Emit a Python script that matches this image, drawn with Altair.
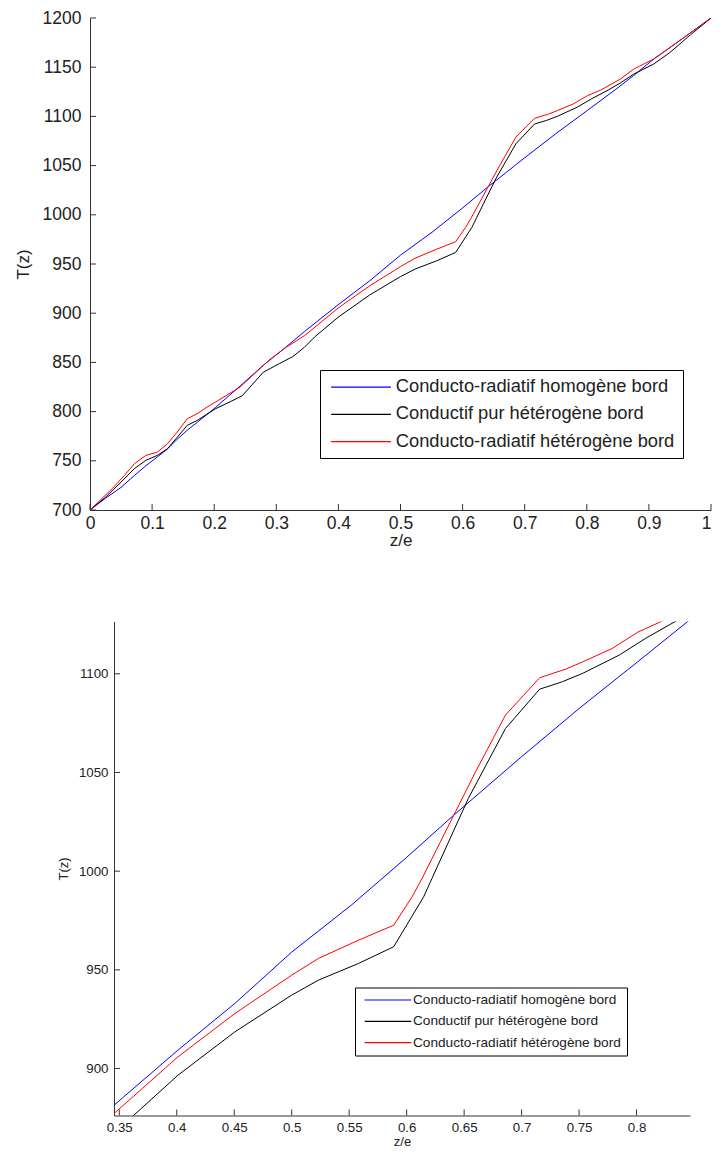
import altair as alt
import pandas as pd

FONT = "Liberation Sans"
AX = "#333333"
TXT = "#222222"

SERIES = ["Conducto-radiatif homogène bord",
          "Conductif pur hétérogène bord",
          "Conducto-radiatif hétérogène bord"]
COLORS = ["#0000ff", "#000000", "#ff0000"]

# Conducto-radiatif homogène bord (blue)
z_homog = [0, 0.025, 0.05, 0.0714, 0.09, 0.1086, 0.1246, 0.1406, 0.1565, 0.1725,
           0.2018, 0.2417, 0.279, 0.3163, 0.3454, 0.401, 0.4506, 0.5, 0.5523, 0.6,
           0.641, 0.7, 0.75, 0.8008, 0.8456, 0.8754, 0.9073, 0.934, 0.967, 1.0]
T_homog = [700, 712, 723, 735, 745, 754, 762, 772, 781, 789,
           804, 826, 847, 866, 881.4, 909.3, 933, 959, 983, 1007,
           1028.4, 1058, 1082.4, 1106, 1127, 1141.5, 1158, 1170, 1185, 1200]

# Conductif pur hétérogène bord (black)
z_cond = [0, 0.025, 0.05, 0.0714, 0.09, 0.1086, 0.1246, 0.1406, 0.1565, 0.1725,
          0.2018, 0.2257, 0.245, 0.279, 0.3056, 0.327, 0.345, 0.362, 0.401, 0.4506,
          0.5, 0.5233, 0.558, 0.5887, 0.6148, 0.622, 0.6536, 0.686, 0.7157, 0.7355,
          0.753, 0.785, 0.808, 0.8343, 0.854, 0.8754, 0.9073, 0.934, 0.967, 1.0]
T_cond = [700, 713, 728.4, 742, 750.5, 755.5, 762.2, 774, 786, 791,
          802.8, 810, 816, 840, 849, 856, 865.2, 876, 896.6, 918.6,
          937.2, 944.8, 953.2, 961.7, 987, 996.3, 1036.8, 1072.3, 1092.2, 1096,
          1100.2, 1109.5, 1118, 1126.7, 1134, 1142.9, 1153.1, 1165, 1183, 1200]

# Conducto-radiatif hétérogène bord (red)
z_het = [0, 0.0367, 0.0554, 0.0714, 0.09, 0.1086, 0.1246, 0.1406, 0.1565, 0.1725,
         0.1885, 0.2018, 0.2417, 0.2897, 0.3163, 0.3454, 0.401, 0.4506, 0.5, 0.5233,
         0.558, 0.5887, 0.6047, 0.6134, 0.6425, 0.66, 0.686, 0.7157, 0.7385, 0.753,
         0.779, 0.8008, 0.8222, 0.854, 0.8754, 0.9073, 0.934, 0.967, 1.0]
T_het = [700, 722.3, 735.2, 747, 755.5, 758.9, 767.3, 779.2, 792.7, 797.8,
         804.6, 809.6, 825, 853, 865.5, 877.2, 905.9, 927.9, 947.3, 955.8,
         965, 972.6, 987, 996.3, 1030.1, 1050.4, 1079.1, 1098, 1102.4, 1106,
         1112.9, 1121, 1126.7, 1137.9, 1148, 1158.2, 1170, 1185, 1200]

top_x_ticks = [0, 0.1, 0.2, 0.3, 0.4, 0.5, 0.6, 0.7, 0.8, 0.9, 1]
top_y_ticks = [700, 750, 800, 850, 900, 950, 1000, 1050, 1100, 1150, 1200]
top_x_domain = [0, 1]
top_y_domain = [700, 1200]

bot_x_ticks = [0.35, 0.4, 0.45, 0.5, 0.55, 0.6, 0.65, 0.7, 0.75, 0.8]
bot_y_ticks = [900, 950, 1000, 1050, 1100]
bot_x_domain = [0.3454, 0.8465]
bot_y_domain = [876.2, 1126.5]

rows = []
for name, zs, ts in [(SERIES[0], z_homog, T_homog),
                     (SERIES[1], z_cond, T_cond),
                     (SERIES[2], z_het, T_het)]:
    for z, t in zip(zs, ts):
        rows.append({"z": z, "T": t, "serie": name})
df = pd.DataFrame(rows)


def panel(width, height, x_scale, y_scale, x_ticks, y_ticks, x_axis, y_axis,
          legend, xoff, tick_len, zmin=None):
    color = alt.Color("serie:N", scale=alt.Scale(domain=SERIES, range=COLORS),
                      legend=legend)
    layers = []
    for s in SERIES:
        c = alt.Chart(df).mark_line(clip=True, strokeWidth=1)
        if zmin is not None:
            c = c.transform_filter(f"datum.z >= {zmin}")
        c = c.transform_filter(alt.datum.serie == s).encode(
            x=alt.X("z:Q", scale=x_scale, axis=x_axis),
            y=alt.Y("T:Q", scale=y_scale, axis=y_axis),
            color=color,
        )
        layers.append(c)
    xt = alt.Chart(pd.DataFrame({"z": x_ticks})).mark_rule(
        color=AX, strokeWidth=1).encode(
        x=alt.X("z:Q", scale=x_scale, axis=x_axis),
        y=alt.value(height), y2=alt.value(height - tick_len))
    yt = alt.Chart(pd.DataFrame({"T": y_ticks})).mark_rule(
        color=AX, strokeWidth=1).encode(
        y=alt.Y("T:Q", scale=y_scale, axis=y_axis),
        x=alt.value(xoff), x2=alt.value(xoff + tick_len))
    return alt.layer(*layers, xt, yt).properties(width=width, height=height)


# ---------- top panel ----------
TW, TH = 621, 492
top_xs = alt.Scale(domain=top_x_domain, nice=False, zero=False)
top_ys = alt.Scale(domain=top_y_domain, nice=False, zero=False)
top_xa = alt.Axis(values=top_x_ticks, format="~g", title="z/e", ticks=False,
                  tickSize=0, grid=False, domainColor=AX, labelFont=FONT,
                  labelFontSize=17.5, labelColor=TXT, labelPadding=4,
                  labelAlign=alt.ExprRef("datum.value == 1 ? 'right' : 'center'"),
                  labelFlush=False, labelOverlap=False, titleFont=FONT,
                  titleFontSize=17, titleFontWeight="normal", titleColor=TXT,
                  titlePadding=1)
top_ya = alt.Axis(values=top_y_ticks, format="d", title="T(z)", ticks=False,
                  tickSize=0, grid=False, domainColor=AX, labelFont=FONT,
                  labelFontSize=17.5, labelColor=TXT, labelPadding=9,
                  labelFlush=False, labelOverlap=False, titleFont=FONT,
                  titleFontSize=17, titleFontWeight="normal", titleColor=TXT,
                  titlePadding=10)
top_leg = alt.Legend(title=None, orient="none", legendX=230, legendY=352,
                     direction="vertical", symbolType="M-1,0H8.97",
                     symbolSize=144, symbolStrokeWidth=1.3, labelFont=FONT,
                     labelFontSize=18.3, labelColor=TXT, labelLimit=600,
                     strokeColor="black", fillColor="white", padding=8,
                     rowPadding=8.2, labelOffset=49.5)
top = panel(TW, TH, top_xs, top_ys, top_x_ticks, top_y_ticks, top_xa, top_ya,
            top_leg, 0, 6)

# ---------- bottom panel (zoom) ----------
BW, BH = 600, 494
bot_xs = alt.Scale(domain=bot_x_domain, range=[24, BW], nice=False, zero=False)
bot_ys = alt.Scale(domain=bot_y_domain, nice=False, zero=False)
bot_xa = alt.Axis(values=bot_x_ticks, format="~g", title="z/e", ticks=False,
                  tickSize=0, grid=False, domainColor=AX, labelFont=FONT,
                  labelFontSize=13.3, labelColor=TXT, labelPadding=5,
                  labelFlush=False, labelOverlap=False, titleFont=FONT,
                  titleFontSize=13, titleFontWeight="normal", titleColor=TXT,
                  titlePadding=2)
bot_ya = alt.Axis(values=bot_y_ticks, format="d", title="T(z)", ticks=False,
                  tickSize=0, grid=False, domainColor=AX, labelFont=FONT,
                  labelFontSize=13.3, labelColor=TXT, labelPadding=6,
                  labelFlush=False, labelOverlap=False, titleFont=FONT,
                  titleFontSize=13, titleFontWeight="normal", titleColor=TXT,
                  titlePadding=8, offset=-24)
bot_leg = alt.Legend(title=None, orient="none", legendX=265, legendY=366,
                     direction="vertical", symbolType="M-0.47,0H7.3",
                     symbolSize=144, symbolStrokeWidth=1.2, labelFont=FONT,
                     labelFontSize=13.65, labelColor=TXT, labelLimit=600,
                     strokeColor="black", fillColor="white", padding=5.5,
                     rowPadding=7.3, labelOffset=38.5)
bottom = panel(BW, BH, bot_xs, bot_ys, bot_x_ticks, bot_y_ticks, bot_xa, bot_ya,
               bot_leg, 24, 6, zmin=0.345)

chart = alt.vconcat(top, bottom, spacing=71.5).resolve_scale(
    color="independent").properties(
    padding={"left": 5, "top": 0, "right": 0, "bottom": 0}
).configure_view(stroke="transparent")

chart.save("out.html", embed_options={"renderer": "svg", "actions": False})
